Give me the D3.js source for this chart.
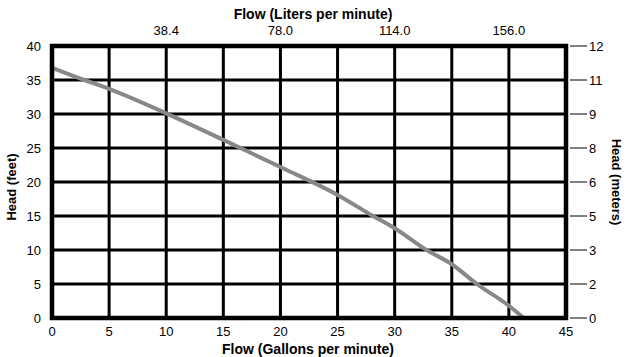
<!DOCTYPE html>
<html><head><meta charset="utf-8">
<script src="https://cdn.jsdelivr.net/npm/d3@7"></script>
<style>body{margin:0;background:#fff}svg{display:block;font-family:"Liberation Sans",Arial,sans-serif}</style>
</head><body><svg id="c" width="631" height="357"></svg>
<script>
const flowGpm = [0, 2.5, 5, 10, 15, 20, 25, 28.1, 30, 32.8, 35, 37.2, 40, 41.3];
const headFt  = [36.8, 35.2, 33.7, 30.1, 26.2, 22.2, 18.1, 15, 13.2, 10, 7.9, 5, 1.8, 0];
const xTicks = [0, 5, 10, 15, 20, 25, 30, 35, 40, 45];
const yTicks = [0, 5, 10, 15, 20, 25, 30, 35, 40];
const topTickPos = [10, 20, 30, 40];
const topTickLabels = ["38.4", "78.0", "114.0", "156.0"];
const rightTickLabels = ["0", "2", "3", "5", "6", "8", "9", "11", "12"];

const svg = d3.select("#c");
const L = 52, R = 566, T = 46, B = 318;
const x = d3.scaleLinear().domain([0, 45]).range([L, R]);
const y = d3.scaleLinear().domain([0, 40]).range([B, T]);

// grid
const g = svg.append("g");
g.selectAll(".vx").data(xTicks.slice(1, -1)).join("line")
  .attr("x1", d => x(d)).attr("x2", d => x(d)).attr("y1", T).attr("y2", B)
  .attr("stroke", "#000").attr("stroke-width", 3);
g.selectAll(".hy").data(yTicks.slice(1, -1)).join("line")
  .attr("y1", d => y(d)).attr("y2", d => y(d)).attr("x1", L).attr("x2", R)
  .attr("stroke", "#000").attr("stroke-width", 3);

// curve
const line = d3.line().x((d, i) => x(flowGpm[i])).y(d => y(d)).curve(d3.curveMonotoneX);
svg.append("path").attr("d", line(headFt)).attr("fill", "none")
  .attr("stroke", "#888").attr("stroke-width", 4);

// frame
svg.append("rect").attr("x", L).attr("y", T).attr("width", R - L).attr("height", B - T)
  .attr("fill", "none").attr("stroke", "#000").attr("stroke-width", 4.5);

// bottom axis labels
svg.selectAll(".bt").data(xTicks).join("text")
  .attr("x", d => x(d)).attr("y", 336).attr("text-anchor", "middle")
  .attr("font-size", 13).text(d => d);
// left axis labels
svg.selectAll(".lt").data(yTicks).join("text")
  .attr("x", 41).attr("y", d => y(d) + 5).attr("text-anchor", "end")
  .attr("font-size", 13).text(d => d);
// top axis labels
svg.selectAll(".tt").data(topTickPos).join("text")
  .attr("x", d => x(d)).attr("y", 35).attr("text-anchor", "middle")
  .attr("font-size", 13).text((d, i) => topTickLabels[i]);
// right ticks
svg.selectAll(".rl").data(yTicks).join("line")
  .attr("x1", 570).attr("x2", 587).attr("y1", d => y(d)).attr("y2", d => y(d))
  .attr("stroke", "#000").attr("stroke-width", 1);
svg.selectAll(".rt").data(yTicks).join("text")
  .attr("x", 589).attr("y", d => y(d) + 5).attr("text-anchor", "start")
  .attr("font-size", 13).text((d, i) => rightTickLabels[i]);

// titles
svg.append("text").attr("x", 313).attr("y", 19).attr("text-anchor", "middle")
  .attr("font-size", 14).attr("font-weight", "bold").text("Flow (Liters per minute)");
svg.append("text").attr("x", 308).attr("y", 354).attr("text-anchor", "middle")
  .attr("font-size", 14).attr("font-weight", "bold").text("Flow (Gallons per minute)");
svg.append("text").attr("transform", "translate(16,187) rotate(-90)").attr("text-anchor", "middle")
  .attr("font-size", 13).attr("font-weight", "bold").text("Head (feet)");
svg.append("text").attr("transform", "translate(612,182) rotate(90)").attr("text-anchor", "middle")
  .attr("font-size", 13).attr("font-weight", "bold").text("Head (meters)");
</script></body></html>
